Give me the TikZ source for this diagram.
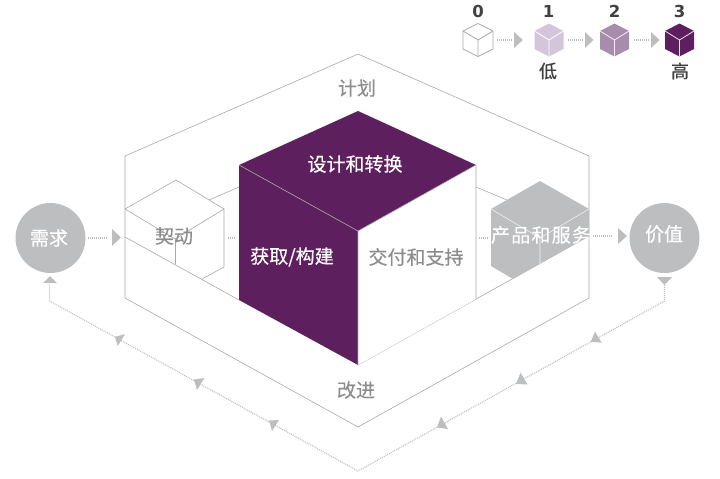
\documentclass[tikz,border=0pt]{standalone}
\usepackage{fontspec}
\setmainfont{Noto Sans CJK SC}
\newfontfamily\numfont{DejaVu Sans}
\newfontfamily\labfont[FakeBold=0.25]{Noto Sans CJK SC}
\newfontfamily\wfont[FakeBold=0.45]{Noto Sans CJK SC}
\newfontfamily\spfont[FakeBold=0.1,LetterSpace=6.5]{Noto Sans CJK SC}
\newfontfamily\legfont[FakeBold=0.7]{Noto Sans CJK SC}
\definecolor{plum}{HTML}{5E1F5E}
\definecolor{plumlight}{HTML}{D3C6DA}
\definecolor{plummid}{HTML}{A78CAB}
\definecolor{greyfill}{HTML}{BDBEC0}
\definecolor{greyline}{HTML}{A8A8A8}
\definecolor{greytext}{HTML}{8C8C8C}
\definecolor{darktext}{HTML}{404040}
\tikzset{
  wire/.style={draw=greyline,line width=0.6pt,line join=miter},
  dots/.style={draw=greyfill,line width=1.1pt,dash pattern=on 1pt off 1pt},
  tip/.style={fill=greyfill,draw=none},
  lab/.style={font=\labfont\fontsize{19}{21}\selectfont,text=greytext,inner sep=0pt},
  wlab/.style={font=\wfont\fontsize{19}{21}\selectfont,text=white,inner sep=0pt},
  plab/.style={font=\spfont\fontsize{19}{21}\selectfont,text=white,inner sep=0pt},
  num/.style={font=\numfont\bfseries\fontsize{16.5}{18}\selectfont,text=darktext,inner sep=0pt},
  leg/.style={font=\legfont\fontsize{18}{20}\selectfont,text=darktext,inner sep=0pt},
  hub/.style={circle,fill=greyfill,minimum size=70pt,inner sep=0pt}
}
% legend cube: #1 centre x, #2 half width, #3 fill, #4 edge colour
\newcommand{\legcube}[4]{%
  \fill[#3] (#1-#2,31) -- (#1,23.5) -- (#1+#2,31) -- (#1+#2,49) -- (#1,56.5) -- (#1-#2,49) -- cycle;
  \draw[#4,line width=0.8pt,line join=miter] (#1-#2,31) -- (#1,40) -- (#1+#2,31) (#1,40) -- (#1,56.5);
}
\begin{document}
\begin{tikzpicture}[x=1pt,y=-1pt]
\useasboundingbox (0,0) rectangle (720,479);
% outer frame
\draw[wire] (125,156) -- (358,54) -- (589,156) -- (589,298) -- (358,427) -- (125,298) -- cycle;
% floor and back lines
\draw[wire] (125,237) -- (239,300);
\draw[wire] (358,365) -- (589,236);
\draw[wire] (209,200) -- (239,187);
\draw[wire] (476,187) -- (507,200);
% small white cube
\draw[wire] (125,209) -- (176,180) -- (224,209) -- (224,267) -- (202,279);
\draw[wire] (125,209) -- (175,239) -- (224,209);
\draw[wire] (175,239) -- (175,264);
% big cube
\fill[plum] (358,111) -- (476,165) -- (358,231) -- (239,165) -- cycle;
\fill[plum] (239,165) -- (358,231) -- (358,365) -- (239,300) -- cycle;
\fill[white] (476,165) -- (476,299) -- (358,365) -- (358,231) -- cycle;
\draw[wire] (239,165) -- (358,231) -- (476,165) -- (476,299) (358,231) -- (358,365);
% grey cube
\fill[greyfill] (491,209) -- (540,181) -- (589,209) -- (589,236) -- (513,279) -- (491,266) -- cycle;
\draw[white!80!greyfill,line width=0.6pt] (491,209) -- (540,238) -- (589,209) (540,238) -- (540,264);
% hubs
\node[hub] (demand) at (50.5,238) {};
\node[hub] (value) at (664.5,238) {};
\node[wlab] at (49,238) {需求};
\node[wlab] at (664,234) {价值};
% labels
\node[lab] (plan) at (357,88) {计划};
\node[lab] (improve) at (356,390) {改进};
\node[lab] (engage) at (174,236) {契动};
\node[wlab] (obtain) at (292,257) {获取/构建};
\node[lab] (deliver) at (416,257) {交付和支持};
\node[wlab] (design) at (355,164) {设计和转换};
\node[plab] (product) at (541,235) {产品和服务};
% horizontal flow
\coordinate (d1) at (88,238); \coordinate (d2) at (108,238);
\coordinate (e1) at (228,238); \coordinate (e2) at (236,238);
\coordinate (p1) at (479,238); \coordinate (p2) at (488,238);
\coordinate (v1) at (593,236); \coordinate (v2) at (613,236);
\draw[dots] (d1) -- (d2);
\draw[dots] (e1) -- (e2);
\draw[dots] (p1) -- (p2);
\draw[dots] (v1) -- (v2);
\fill[tip] (112,229) -- (121,237.5) -- (112,246) -- cycle;
\fill[tip] (618,228) -- (627,236) -- (618,244) -- cycle;
% improvement loop
\coordinate (r0) at (664.5,285); \coordinate (r1) at (664.5,301);
\coordinate (b) at (358,471);
\coordinate (l1) at (49.5,301); \coordinate (l0) at (49.5,284);
\draw[dots] (r0) -- (r1) -- (b) -- (l1) -- (l0);
\fill[tip] (657,277) -- (672,277) -- (664.5,285) -- cycle;
\fill[tip] (43,283) -- (50,276) -- (57,283) -- cycle;
% arrowheads on the left run
\fill[tip] (115,336.7) -- (125,334.3) -- (117.7,346) -- cycle;
\fill[tip] (194,379.5) -- (204.5,378) -- (197,390) -- cycle;
\fill[tip] (269,420.5) -- (279,420) -- (272,431) -- cycle;
% arrowheads on the right run
\fill[tip] (595,331.7) -- (601.7,342.7) -- (590.7,341.7) -- cycle;
\fill[tip] (520.5,372.7) -- (527.5,384.5) -- (516,384) -- cycle;
\fill[tip] (441,416.5) -- (448,429) -- (437,427.5) -- cycle;
% legend
\draw[greyline,line width=0.8pt,line join=miter] (463,31) -- (478,23.5) -- (493,31) -- (493,49) -- (478,56.5) -- (463,49) -- cycle;
\draw[greyline,line width=0.8pt] (463,31) -- (478,40) -- (493,31) (478,40) -- (478,56.5);
\legcube{549}{14.5}{plumlight}{white}
\legcube{614.5}{14.5}{plummid}{white!85!plummid}
\legcube{679.5}{14.5}{plum}{white!85!plum}
\node[num] (n0) at (478,11) {0};
\node[num] (n1) at (548.5,11) {1};
\node[num] (n2) at (614.5,11) {2};
\node[num] (n3) at (679.5,11) {3};
\node[leg] (low) at (548,71) {低};
\node[leg] (high) at (680,71) {高};
\coordinate (a1) at (497,40); \coordinate (a2) at (513,40);
\coordinate (a3) at (568,40); \coordinate (a4) at (583,40);
\coordinate (a5) at (634,40); \coordinate (a6) at (650,40);
\draw[dots] (a1) -- (a2);
\draw[dots] (a3) -- (a4);
\draw[dots] (a5) -- (a6);
\fill[tip] (514,32) -- (523,40) -- (514,48) -- cycle;
\fill[tip] (585,32) -- (593.5,40) -- (585,48) -- cycle;
\fill[tip] (651,32) -- (659.5,40) -- (651,48) -- cycle;
\end{tikzpicture}
\end{document}
